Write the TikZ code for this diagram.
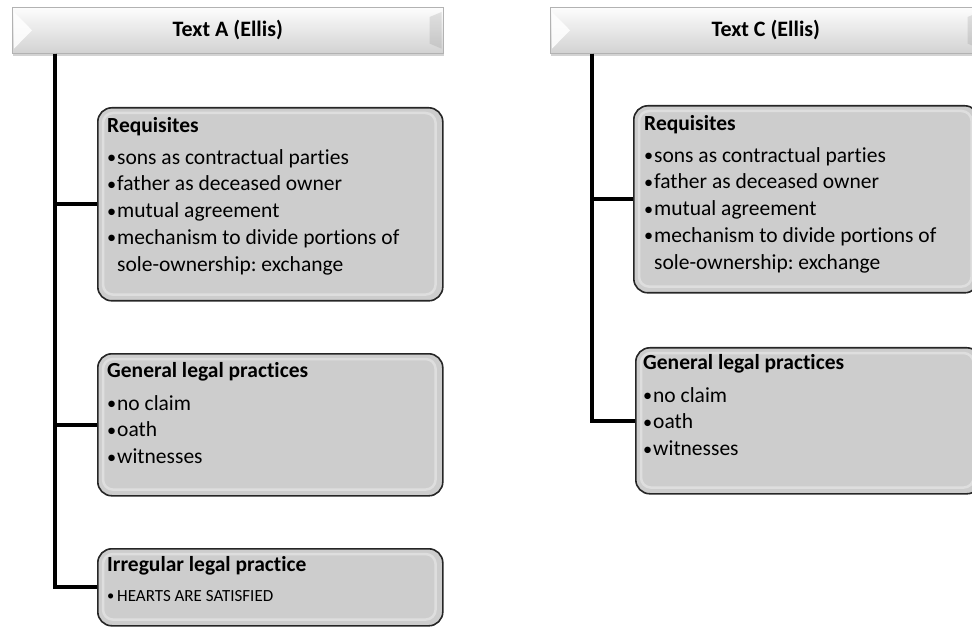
\documentclass[tikz,border=0pt]{standalone}
\usepackage{fontspec}
\setmainfont{Carlito}[Ligatures=NoCommon]
\usetikzlibrary{shadows}
\definecolor{boxfill}{RGB}{205,205,205}
\definecolor{hdrtop}{RGB}{253,253,253}
\definecolor{hdrbot}{RGB}{210,210,210}
\newcommand{\bul}{\makebox[10pt][l]{\raisebox{0.5pt}{\scalebox{0.85}{•}}}}
\frenchspacing
\begin{document}
\begin{tikzpicture}[x=1pt,y=-1pt,
 hdr/.style={draw=gray!60, line width=0.6pt, top color=hdrtop, bottom color=hdrbot,
   minimum width=431pt, minimum height=46pt, inner sep=0, anchor=north west,
   font=\fontsize{22}{24}\selectfont\bfseries,
   drop shadow={opacity=0.35, shadow xshift=1pt, shadow yshift=-2.5pt}},
 panel/.style={draw=black!85, line width=1.6pt, fill=boxfill, rounded corners=14pt,
   anchor=north west, inner sep=0},
 bevel/.style={draw=white, opacity=0.35, line width=2.5pt, rounded corners=10pt},
 body/.style={anchor=north west, align=left, inner sep=0, font=\fontsize{21.5}{26.8}\selectfont},
 conn/.style={line width=4pt}]
\useasboundingbox (0,0) rectangle (972,628);
\clip (0,0) rectangle (972,628);

% headers
\node[hdr] (hA) at (12,7) {Text A (Ellis)};
\node[hdr] (hC) at (550,7) {Text C (Ellis)};
\foreach \h in {hA,hC}{
  \fill[white,opacity=0.85] ([xshift=2pt,yshift=-5pt]\h.north west) -- ([xshift=20pt]\h.west) -- ([xshift=2pt,yshift=5pt]\h.south west) -- cycle;
  \fill[gray,opacity=0.2] ([xshift=-2pt,yshift=-5pt]\h.north east) -- ([xshift=-14pt,yshift=-10pt]\h.north east) -- ([xshift=-14pt,yshift=10pt]\h.south east) -- ([xshift=-2pt,yshift=5pt]\h.south east) -- cycle;
}

% left column panels
\node[panel, minimum width=345pt, minimum height=193pt] (reqA) at (97,107) {};
\node[panel, minimum width=345pt, minimum height=142pt] (genA) at (97,353) {};
\node[panel, minimum width=345pt, minimum height=77pt] (irrA) at (97,548) {};
% right column panels
\node[panel, minimum width=345pt, minimum height=187pt] (reqC) at (633,105) {};
\node[panel, minimum width=345pt, minimum height=146pt] (genC) at (635,347) {};
\foreach \b in {reqA,genA,irrA,reqC,genC}{
  \draw[bevel] ([xshift=6pt,yshift=-6pt]\b.north west) rectangle ([xshift=-8pt,yshift=7pt]\b.south east);
}

% connectors
\draw[conn] ([xshift=43pt]hA.south west) |- (reqA.west);
\draw[conn] ([xshift=43pt]hA.south west) |- (genA.west);
\draw[conn] ([xshift=43pt]hA.south west) |- (irrA.west);
\draw[conn] ([xshift=42pt]hC.south west) |- (reqC.west);
\draw[conn] ([xshift=42pt]hC.south west) |- (genC.west);

% texts
\node[body] (treqA) at (107,117) {\textbf{Requisites}\\[5pt]
\bul sons as contractual parties\\
\bul father as deceased owner\\
\bul mutual agreement\\
\bul mechanism to divide portions of\\
\hspace*{10pt}sole-ownership: exchange};
\node[body] (tgenA) at (107,362) {\textbf{General legal practices}\\[6pt]
\bul no claim\\
\bul oath\\
\bul witnesses};
\node[body] (tirrA) at (107,556) {\textbf{Irregular legal practice}\\[3pt]
{\fontsize{17}{19}\selectfont\bul HEARTS ARE SATISFIED}};
\node[body] (treqC) at (644,115) {\textbf{Requisites}\\[5pt]
\bul sons as contractual parties\\
\bul father as deceased owner\\
\bul mutual agreement\\
\bul mechanism to divide portions of\\
\hspace*{10pt}sole-ownership: exchange};
\node[body] (tgenC) at (643,354) {\textbf{General legal practices}\\[6pt]
\bul no claim\\
\bul oath\\
\bul witnesses};
\end{tikzpicture}
\end{document}
